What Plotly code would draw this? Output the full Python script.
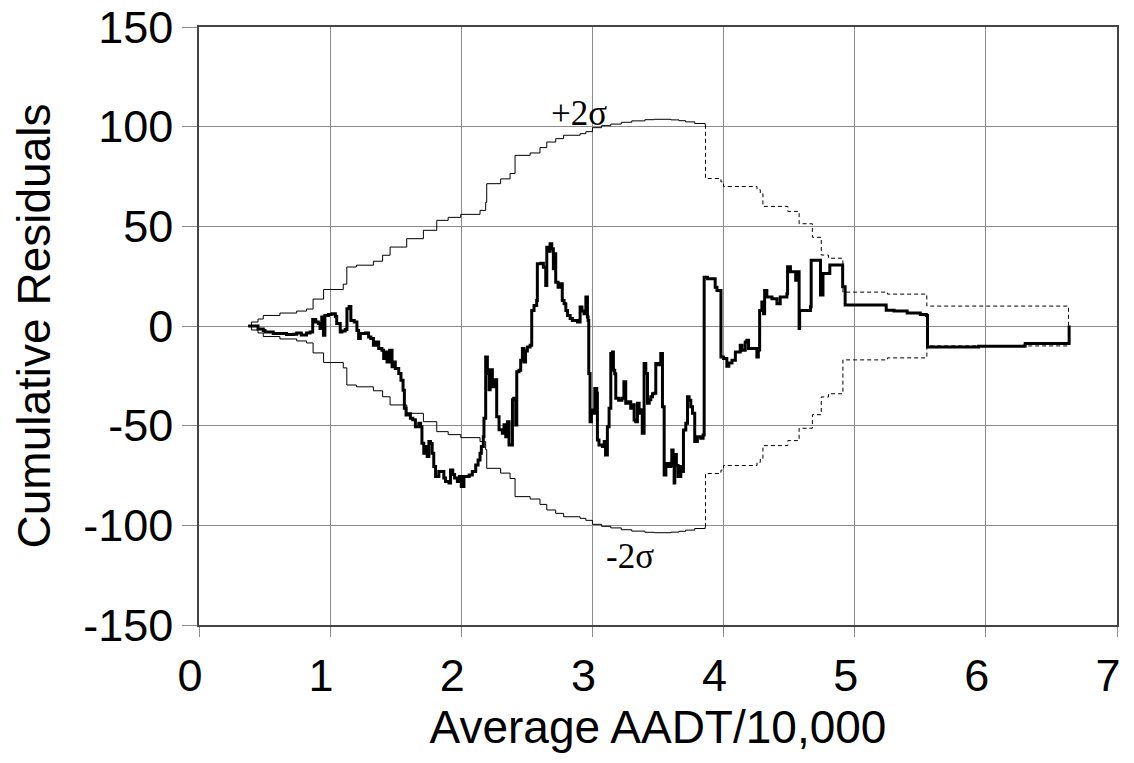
import plotly.graph_objects as go

# ---------------- data ----------------
# Cumulative residuals (step series)
cure_x = [0.375, 0.45, 0.49, 0.503, 0.566, 0.668, 0.72, 0.745, 0.78, 0.82, 0.847, 0.867, 0.89, 0.91, 0.923,
          0.936, 0.949, 0.96, 0.987, 1.013, 1.04, 1.05, 1.077, 1.09, 1.115, 1.128, 1.145, 1.158, 1.184, 1.204,
          1.217, 1.23, 1.268, 1.293, 1.31, 1.33, 1.35, 1.37, 1.395, 1.408, 1.42, 1.434, 1.454, 1.472, 1.485,
          1.497, 1.523, 1.54, 1.556, 1.566, 1.579, 1.6, 1.612, 1.63, 1.65, 1.676, 1.69, 1.7, 1.714, 1.727,
          1.74, 1.753, 1.765, 1.778, 1.79, 1.804, 1.829, 1.855, 1.867, 1.88, 1.906, 1.918, 1.935, 1.949, 1.97,
          1.985, 2.0, 2.02, 2.06, 2.084, 2.11, 2.128, 2.143, 2.153, 2.168, 2.173, 2.186, 2.199, 2.212, 2.22,
          2.237, 2.25, 2.27, 2.288, 2.313, 2.326, 2.339, 2.352, 2.364, 2.39, 2.4, 2.415, 2.423, 2.44, 2.453,
          2.466, 2.478, 2.49, 2.504, 2.525, 2.537, 2.555, 2.575, 2.58, 2.606, 2.626, 2.644, 2.652, 2.665, 2.677,
          2.69, 2.702, 2.713, 2.72, 2.738, 2.758, 2.77, 2.784, 2.797, 2.81, 2.83, 2.847, 2.886, 2.906, 2.92,
          2.936, 2.95, 2.962, 2.967, 2.972, 2.982, 2.992, 3.008, 3.018, 3.033, 3.038, 3.05, 3.076, 3.09, 3.1,
          3.114, 3.127, 3.14, 3.153, 3.16, 3.17, 3.178, 3.2, 3.225, 3.24, 3.254, 3.275, 3.292, 3.305, 3.318,
          3.33, 3.343, 3.356, 3.368, 3.38, 3.394, 3.407, 3.42, 3.433, 3.445, 3.458, 3.47, 3.483, 3.5, 3.521,
          3.534, 3.547, 3.56, 3.575, 3.597, 3.605, 3.615, 3.623, 3.628, 3.64, 3.653, 3.674, 3.687, 3.694,
          3.712, 3.725, 3.737, 3.75, 3.763, 3.78, 3.8, 3.826, 3.844, 3.852, 3.877, 3.936, 3.95, 3.98, 4.0,
          4.025, 4.04, 4.064, 4.09, 4.127, 4.14, 4.165, 4.178, 4.19, 4.254, 4.265, 4.275, 4.292, 4.305, 4.313,
          4.33, 4.369, 4.407, 4.432, 4.483, 4.488, 4.51, 4.55, 4.565, 4.576, 4.58, 4.663, 4.668, 4.739, 4.758,
          4.81, 4.894, 4.908, 4.927, 5.22, 5.24, 5.3, 5.4, 5.5, 5.546, 5.555, 5.945, 6.29, 6.3, 6.635]
cure_y = [0, -1.5, -2.2, -3, -3.8, -4.3, -4.2, -3.5, -4.5, -3.5, -3, 3.2, 2.0, 1.2, -1.3,
          4.5, -4.7, 5.3, 5.8, 6.2, 4.8, 1.2, -3, -2.5, -1.8, 8.7, 9.8, 2.8, 2.0, -2.2,
          -6.3, -3.8, -3.5, -5.5, -6.3, -9.7, -8.0, -11.3, -12.2, -16.3, -13, -18, -12.2, -20.5, -18,
          -21.3, -23.8, -27.2, -32.2, -41.3, -44.7, -44, -46.3, -47, -50.5, -48.8, -50.5, -58.8, -63.8, -60.5,
          -65.5, -58, -59, -63.8, -70.5, -75.5, -73, -73, -76.3, -78, -78.8, -72.2, -74.5, -76.3, -78,
          -75.5, -80.5, -75.5, -74.7, -73, -69.7, -67.2, -63.8, -60.5, -55.5, -46.3, -15.5, -23.8, -32, -22,
          -30.5, -27, -45.5, -52, -53.8, -49.5, -55.5, -48, -59.7, -37, -36.3, -49.7, -23, -22.2, -17.2,
          -11.3, -18, -12.5, -10.5, -9.7, 7.8, 10.3, 12.8, 31.2, 31.5, 29.5, 20.3, 39.5, 37.5, 41.2,
          38.7, 28.7, 36.2, 22, 19.5, 21.2, 12.8, 11.2, 7.8, 5.3, 3.7, 2.8, 2, 9.5, 7.5,
          6.2, 14.5, 4.5, 2.8, -23.8, -48, -42.2, -43.8, -31.3, -33.8, -57.2, -59.7, -60.5, -58, -64.7,
          -50.5, -41.3, -13.8, -13, -22.2, -24, -36.3, -37.2, -36.3, -28, -38.8, -38, -41.3, -39.5, -47.2,
          -48, -38.8, -43.8, -42, -53.8, -18.8, -23.8, -38.8, -37, -35.5, -34, -33.8, -18.8, -19.5, -13.8,
          -40.5, -74.7, -69, -70.5, -68.8, -62.2, -70, -78.8, -64.5, -70, -75.5, -70.5, -73, -52.2,
          -48.8, -35.5, -37.2, -40.5, -43.8, -58, -55.5, -56.3, -54.7, 24.5, 23.7, 19.5, 17.8, -15.5, -16.3,
          -20.2, -18.5, -17.2, -13, -9.7, -12.2, -8, -7.2, -11.3, -15.5, -12, 7.8, 12, 6.2, 17.8,
          14.5, 13.7, 11.2, 14.5, 16.2, 29.7, 27.2, 23, 27.2, -1.3, 7.8, 9.6, 33, 15.5, 26.4,
          30.6, 30.6, 19.7, 10.5, 10.5, 7.9, 7.5, 6.5, 5.8, 5.3, -10.5, -10.2, -10, -8.8, 0.3]

# +2 sigma bound, solid part
up_x = [0.376, 0.40, 0.45, 0.49, 0.617, 0.745, 0.82, 0.87, 0.95, 1.10, 1.127, 1.20, 1.33, 1.40, 1.457,
        1.584, 1.711, 1.813, 1.90, 1.996, 2.143, 2.186, 2.194, 2.30, 2.372, 2.41, 2.525, 2.60, 2.652, 2.72,
        2.78, 2.906, 2.95, 3.0, 3.07, 3.14, 3.22, 3.30, 3.40, 3.47, 3.60, 3.66, 3.71, 3.78, 3.86]
up_y = [0, 2, 3.5, 5.3, 6.5, 7.5, 8.5, 13.5, 18.3, 21, 29.6, 30.5, 32.5, 35.5, 39.6,
        43.8, 48, 53, 54.5, 56, 58, 62, 71.4, 73.8, 76.5, 85.6, 86.8, 89.5, 92.3, 94,
        95.7, 96.5, 97.5, 99.5, 100.5, 101.3, 102.2, 102.9, 103.5, 103.7, 103.4, 103, 102.4, 101.6, 100.8]
# -2 sigma bound, solid part
lo_x = [0.376, 0.40, 0.45, 0.49, 0.617, 0.745, 0.82, 0.87, 0.95, 1.10, 1.127, 1.20, 1.33, 1.40, 1.457,
        1.584, 1.711, 1.813, 1.90, 1.996, 2.143, 2.186, 2.194, 2.30, 2.372, 2.41, 2.525, 2.60, 2.652, 2.72,
        2.78, 2.906, 2.95, 3.0, 3.07, 3.14, 3.22, 3.30, 3.40, 3.47, 3.60, 3.66, 3.71, 3.78, 3.86]
lo_y = [0, -2, -3.5, -5.3, -6.5, -7.5, -8.5, -13.5, -18.3, -21, -29.6, -30.5, -32.5, -35.5, -39.6,
        -43.8, -48, -53, -54.5, -56, -58, -62, -71.4, -73.8, -76.5, -85.6, -86.8, -89.5, -92.3, -94,
        -95.7, -96.5, -97.5, -99.5, -100.5, -101.3, -102.2, -102.9, -103.5, -103.7, -103.4, -103, -102.4, -101.6, -100.8]

# bounds, dashed part
upd_x = [3.86, 3.862, 3.98, 4.0, 4.255, 4.28, 4.30, 4.49, 4.576, 4.677, 4.745, 4.80, 4.91, 5.25, 5.55, 6.63]
upd_y = [100.8, 74, 72.3, 70, 68.4, 66.7, 60, 57.5, 51.3, 44.5, 35.6, 34, 17.0, 16.0, 10.0, 0]
lod_x = [3.86, 3.862, 3.98, 4.0, 4.255, 4.28, 4.30, 4.49, 4.576, 4.677, 4.745, 4.80, 4.91, 5.25, 5.55, 6.63]
lod_y = [-100.8, -74, -72.3, -70, -68.4, -66.7, -60, -57.5, -51.3, -44.5, -35.6, -34, -17.0, -16.0, -10.0, 0]

x_ticks = [0, 1, 2, 3, 4, 5, 6, 7]
y_ticks = [-150, -100, -50, 0, 50, 100, 150]

# ---------------- figure ----------------
fig = go.Figure()
thin = dict(color="black", width=1, shape="hv")
dashed = dict(color="black", width=1, shape="hv", dash="4px,3px")

fig.add_trace(go.Scatter(x=up_x, y=up_y, mode="lines", line=thin, hoverinfo="skip"))
fig.add_trace(go.Scatter(x=lo_x, y=lo_y, mode="lines", line=thin, hoverinfo="skip"))
fig.add_trace(go.Scatter(x=upd_x, y=upd_y, mode="lines", line=dashed, hoverinfo="skip"))
fig.add_trace(go.Scatter(x=lod_x, y=lod_y, mode="lines", line=dashed, hoverinfo="skip"))
fig.add_trace(go.Scatter(x=cure_x, y=cure_y, mode="lines",
                         line=dict(color="black", width=3, shape="hv")))

fig.add_annotation(x=2.90, y=106.7, text="+2σ", showarrow=False,
                   font=dict(family="Liberation Serif", size=35, color="black"))
fig.add_annotation(x=3.29, y=-115.5, text="-2σ", showarrow=False,
                   font=dict(family="Liberation Serif", size=35, color="black"))

axis_font = dict(family="Liberation Sans, Arial", size=45, color="black")
title_font = dict(family="Liberation Sans, Arial", size=46, color="black")
fig.update_xaxes(range=[0, 7], tickvals=x_ticks, ticktext=[str(v) for v in x_ticks],
                 showgrid=True, gridcolor="#8c8c8c", gridwidth=1,
                 showline=True, linecolor="#444444", linewidth=1.5, mirror=True,
                 ticks="outside", ticklen=10, tickcolor="#8c8c8c", tickwidth=1,
                 zeroline=False, tickfont=axis_font, ticklabelshift=-9, automargin=False,
                 title=dict(text="Average AADT/10,000", font=title_font, standoff=4))
fig.update_yaxes(range=[-150, 150], tickvals=y_ticks, ticktext=[str(v) for v in y_ticks],
                 showgrid=True, gridcolor="#8c8c8c", gridwidth=1,
                 showline=True, linecolor="#444444", linewidth=1.5, mirror=True,
                 ticks="outside", ticklen=15, tickcolor="#8c8c8c", tickwidth=1,
                 zeroline=False, tickfont=axis_font, automargin=False,
                 title=dict(text="Cumulative Residuals", font=title_font, standoff=18))

fig.update_layout(width=1134, height=763, showlegend=False,
                  margin=dict(l=199, r=17, t=27, b=138),
                  paper_bgcolor="white", plot_bgcolor="white")

fig.write_html("out.html")
